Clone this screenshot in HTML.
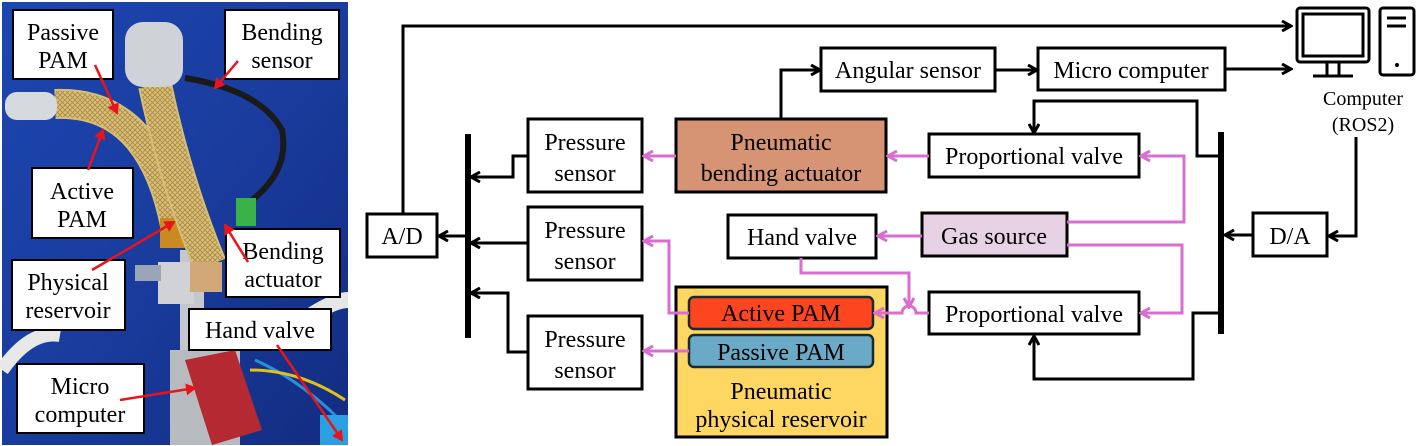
<!DOCTYPE html>
<html><head><meta charset="utf-8"><style>
html,body{margin:0;padding:0;background:#fff;}
svg{display:block;}
</style></head><body>
<svg width="1420" height="446" viewBox="0 0 1420 446" xmlns="http://www.w3.org/2000/svg">
<defs>
<marker id="ak" markerWidth="12" markerHeight="12" refX="9" refY="6" orient="auto" markerUnits="userSpaceOnUse">
<path d="M1,1 L10,6 L1,11" fill="none" stroke="#000" stroke-width="3"/></marker>
<marker id="ap" markerWidth="12" markerHeight="12" refX="9" refY="6" orient="auto" markerUnits="userSpaceOnUse">
<path d="M1,1 L10,6 L1,11" fill="none" stroke="#d86fd0" stroke-width="3"/></marker>
<marker id="ar" markerWidth="12" markerHeight="12" refX="9" refY="6" orient="auto" markerUnits="userSpaceOnUse">
<path d="M0,0 L11,6 L0,12 z" fill="#e8141a"/></marker>
<linearGradient id="bg" x1="0" y1="0" x2="1" y2="1">
<stop offset="0" stop-color="#1c46b0"/><stop offset="0.5" stop-color="#1a3c9e"/><stop offset="1" stop-color="#122c80"/></linearGradient>
<pattern id="mesh" width="5" height="5" patternUnits="userSpaceOnUse">
<rect width="5" height="5" fill="#d9bf78"/><path d="M0,0 L5,5 M5,0 L0,5" stroke="#a88a45" stroke-width="0.8"/></pattern>
</defs>

<rect x="2" y="2" width="346" height="443" fill="url(#bg)"/>
<rect x="180" y="250" width="24" height="195" fill="#c4c7cc"/>
<rect x="170" y="350" width="70" height="95" fill="#b7babf"/>
<rect x="158" y="262" width="36" height="42" fill="#d0d2d6"/>
<rect x="135" y="265" width="26" height="16" fill="#9aa6b8"/>
<path d="M2,370 Q30,330 60,335" stroke="#e8e8e8" stroke-width="14" fill="none"/>
<path d="M290,330 Q330,300 348,300" stroke="#e6e6e6" stroke-width="16" fill="none"/>
<path d="M55,104 Q150,100 175,225" stroke="#d8bd74" stroke-width="30" fill="none"/>
<path d="M55,104 Q150,100 175,225" stroke="url(#mesh)" stroke-width="26" fill="none"/>
<rect x="5" y="92" width="52" height="28" rx="12" fill="#d6d9de"/>
<rect x="160" y="218" width="28" height="30" fill="#c98a22"/>
<path d="M155,85 Q175,180 210,265" stroke="#d8bd74" stroke-width="34" fill="none"/>
<path d="M155,85 Q175,180 210,265" stroke="url(#mesh)" stroke-width="30" fill="none"/>
<rect x="190" y="262" width="32" height="30" fill="#d2a878"/>
<rect x="125" y="22" width="58" height="65" rx="18" fill="#cfd3d8"/>
<path d="M185,78 Q260,90 282,130 Q290,170 252,200" stroke="#1a1a1a" stroke-width="6" fill="none"/>
<rect x="236" y="198" width="20" height="28" fill="#3ab24a"/>
<path d="M185,360 L235,350 L262,430 L212,445 Z" fill="#b52a32"/>
<path d="M255,360 Q300,380 340,420" stroke="#2a8fd6" stroke-width="3" fill="none"/>
<path d="M250,370 Q300,370 345,400" stroke="#e2c21a" stroke-width="3" fill="none"/>
<rect x="320" y="415" width="28" height="30" fill="#2aa0e0"/>
<g stroke="#000" stroke-width="2" fill="#fff">
<rect x="13" y="10" width="100" height="69"/>
<rect x="225" y="10" width="114" height="69"/>
<rect x="32" y="168" width="101" height="70"/>
<rect x="12" y="260" width="113" height="70"/>
<rect x="226" y="229" width="114" height="68"/>
<rect x="189" y="309" width="142" height="41"/>
<rect x="17" y="364" width="127" height="69"/>
</g>
<g style="font-family:'Liberation Serif','DejaVu Serif',serif;font-size:24px" text-anchor="middle" fill="#000">
<text x="63" y="40">Passive</text><text x="63" y="68">PAM</text>
<text x="282" y="40">Bending</text><text x="282" y="68">sensor</text>
<text x="82" y="199">Active</text><text x="82" y="227">PAM</text>
<text x="68" y="290">Physical</text><text x="68" y="318">reservoir</text>
<text x="283" y="259">Bending</text><text x="283" y="287">actuator</text>
<text x="260" y="338">Hand valve</text>
<text x="80" y="394">Micro</text><text x="80" y="422">computer</text>
</g>
<g stroke="#e8141a" stroke-width="2.5" fill="none" marker-end="url(#ar)">
<line x1="95" y1="65" x2="117" y2="113"/>
<line x1="88" y1="170" x2="103" y2="130"/>
<line x1="92" y1="270" x2="174" y2="222"/>
<line x1="238" y1="61" x2="215" y2="88"/>
<line x1="248" y1="262" x2="225" y2="225"/>
<line x1="277" y1="345" x2="342" y2="440"/>
<line x1="120" y1="400" x2="195" y2="388"/>
</g>

<g stroke="#000" stroke-width="3" fill="#fff">
<rect x="821" y="48" width="174" height="43"/>
<rect x="1038" y="48" width="187" height="42"/>
<rect x="528" y="119" width="114" height="73"/>
<rect x="676" y="119" width="210" height="73" fill="#d69474"/>
<rect x="929" y="134" width="210" height="43"/>
<rect x="528" y="207" width="114" height="73"/>
<rect x="728" y="215" width="148" height="43"/>
<rect x="922" y="213" width="145" height="43" fill="#e6d2e4"/>
<rect x="367" y="214" width="70" height="43"/>
<rect x="1253" y="213" width="74" height="43"/>
<rect x="528" y="316" width="114" height="73"/>
<rect x="929" y="292" width="210" height="42"/>
<rect x="676" y="287" width="211" height="150" fill="#fed762"/>
</g>
<rect x="689" y="297" width="184" height="32" rx="5" fill="#fd4520" stroke="#1a2a30" stroke-width="2.5"/>
<rect x="689" y="335" width="184" height="32" rx="5" fill="#6aaac6" stroke="#1a2a30" stroke-width="2.5"/>
<line x1="468" y1="134" x2="468" y2="338" stroke="#000" stroke-width="6"/>
<line x1="1221" y1="132" x2="1221" y2="334" stroke="#000" stroke-width="6"/>
<g stroke="#000" stroke-width="3" fill="none" marker-end="url(#ak)">
<polyline points="403,214 403,26 1290,26"/>
<line x1="1225" y1="69" x2="1290" y2="69"/>
<polyline points="781,119 781,70 819,70"/>
<line x1="995" y1="70" x2="1036" y2="70"/>
<polyline points="528,156 513,156 513,177 472,177"/>
<line x1="528" y1="243" x2="472" y2="243"/>
<polyline points="528,352 508,352 508,293 472,293"/>
<line x1="465" y1="236" x2="440" y2="236"/>
<polyline points="1356,137 1356,236 1330,236"/>
<line x1="1253" y1="235" x2="1226" y2="235"/>
<polyline points="1218,156 1197,156 1197,101 1034,101 1034,132"/>
<polyline points="1218,313 1193,313 1193,379 1034,379 1034,337"/>
</g>
<g stroke="#000" stroke-width="3" fill="none">
<rect x="1297" y="8" width="72" height="54" rx="3"/>
<rect x="1303" y="14" width="60" height="42"/>
<line x1="1327" y1="62" x2="1327" y2="76"/><line x1="1339" y1="62" x2="1339" y2="76"/>
<line x1="1313" y1="76" x2="1353" y2="76"/>
<rect x="1380" y="8" width="34" height="67" rx="3"/>
<line x1="1387" y1="18" x2="1406" y2="18"/><line x1="1387" y1="26" x2="1406" y2="26"/>
</g>
<circle cx="1397" cy="65" r="2" fill="#000"/>
<g stroke="#d86fd0" stroke-width="3" fill="none" marker-end="url(#ap)">
<line x1="676" y1="156" x2="645" y2="156"/>
<line x1="929" y1="156" x2="889" y2="156"/>
<polyline points="1067,222 1184,222 1184,156 1142,156"/>
<polyline points="1067,245 1182,245 1182,313 1142,313"/>
<line x1="922" y1="236" x2="879" y2="236"/>
<polyline points="689,313 669,313 669,241 645,241"/>
<line x1="689" y1="351" x2="645" y2="351"/>
<path d="M929,313 L916,313 A7,7 0 0 0 902,313 L876,313"/>
<polyline points="801,258 801,273 909,273 909,306 M909,320 909,351 876,351"/>
</g>
<g style="font-family:'Liberation Serif','DejaVu Serif',serif;font-size:24px" text-anchor="middle" fill="#000">
<text x="908" y="78">Angular sensor</text>
<text x="1131" y="78">Micro computer</text>
<text x="585" y="150">Pressure</text><text x="585" y="181">sensor</text>
<text x="781" y="150">Pneumatic</text><text x="781" y="181">bending actuator</text>
<text x="1034" y="164">Proportional valve</text>
<text x="585" y="238">Pressure</text><text x="585" y="269">sensor</text>
<text x="802" y="245">Hand valve</text>
<text x="994" y="244">Gas source</text>
<text x="402" y="244">A/D</text>
<text x="1290" y="244">D/A</text>
<text x="585" y="347">Pressure</text><text x="585" y="378">sensor</text>
<text x="1034" y="322">Proportional valve</text>
<text x="781" y="321">Active PAM</text>
<text x="781" y="360">Passive PAM</text>
<text x="781" y="399">Pneumatic</text>
<text x="781" y="427">physical reservoir</text>
</g>
<g style="font-family:'Liberation Serif','DejaVu Serif',serif;font-size:20px" text-anchor="middle" fill="#000">
<text x="1363" y="105">Computer</text><text x="1363" y="131">(ROS2)</text>
</g>
</svg>
</body></html>
